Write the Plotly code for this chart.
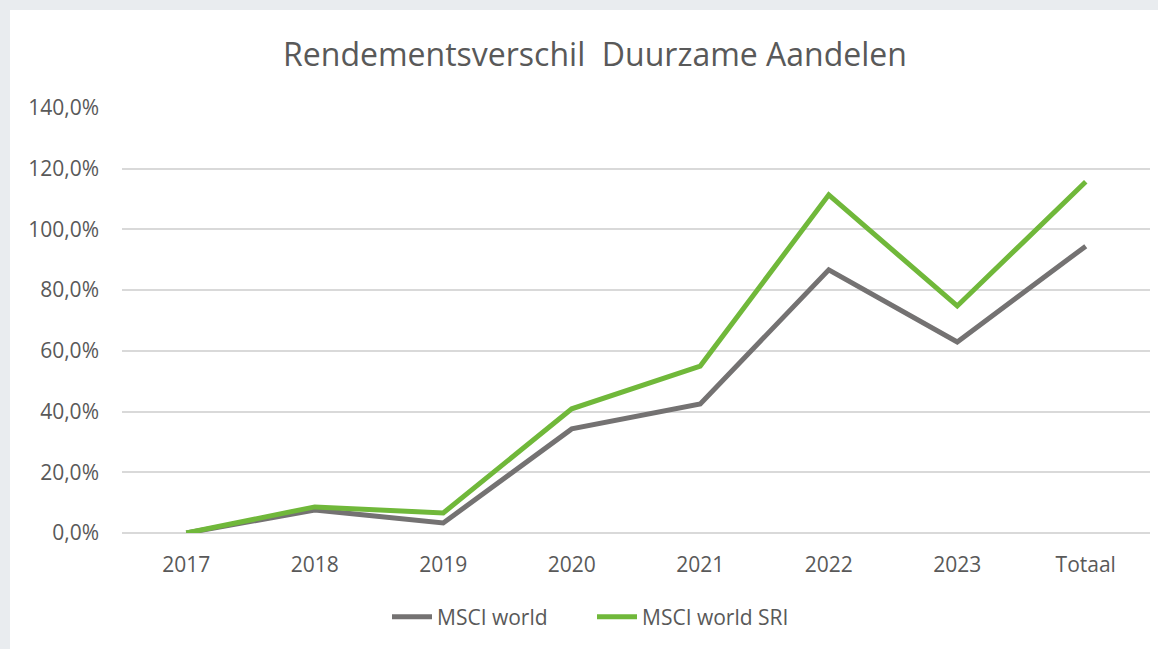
import plotly.graph_objects as go

categories = ["2017", "2018", "2019", "2020", "2021", "2022", "2023", "Totaal"]
msci_world = [0.0, 7.6, 3.3, 34.3, 42.5, 86.7, 62.9, 94.5]
msci_world_sri = [0.0, 8.6, 6.6, 40.9, 55.0, 111.4, 74.8, 115.7]
y_ticks = [0, 20, 40, 60, 80, 100, 120, 140]
y_tick_labels = [f"{v:.1f}%".replace(".", ",") for v in y_ticks]

FONT = "Open Sans"
TXT = "#595959"

fig = go.Figure()
fig.add_trace(go.Scatter(x=categories, y=msci_world, mode="lines", name="MSCI world",
                         line=dict(color="#747272", width=5)))
fig.add_trace(go.Scatter(x=categories, y=msci_world_sri, mode="lines", name="MSCI world SRI",
                         line=dict(color="#70b83a", width=5)))

fig.update_layout(
    width=1158, height=649,
    paper_bgcolor="#e9ecef",
    plot_bgcolor="white",
    margin=dict(l=122, r=8, t=108, b=116),
    title=dict(text="Rendementsverschil  Duurzame Aandelen", x=595 / 1158, xanchor="center",
               y=1 - 55 / 649, yanchor="middle",
               font=dict(family=FONT, size=32, color=TXT)),
    font=dict(family=FONT, color=TXT),
    showlegend=True,
    legend=dict(orientation="h", x=(400 - 122 - 13) / 1028, xanchor="left",
                y=-84 / 425, yanchor="middle", entrywidth=150, entrywidthmode="pixels",
                font=dict(family=FONT, size=21, color=TXT), bgcolor="rgba(0,0,0,0)",
                itemwidth=40, tracegroupgap=0),
    shapes=[dict(type="rect", xref="paper", yref="paper", layer="below",
                 x0=-112 / 1028, x1=1 + 8 / 1028, y0=-116 / 425, y1=1 + 98 / 425,
                 fillcolor="white", line=dict(width=0))],
)
fig.update_xaxes(type="category", range=[-0.5, 7.5], showgrid=False, showline=False,
                 zeroline=False, ticks="", tickfont=dict(size=21, color=TXT),
                 ticklabelstandoff=17)
fig.update_yaxes(range=[0, 140], tickvals=y_ticks, ticktext=y_tick_labels,
                 showgrid=True, gridcolor="#d9d9d9", gridwidth=2, zeroline=True,
                 zerolinecolor="#d9d9d9", zerolinewidth=2, showline=False, ticks="",
                 tickfont=dict(size=21, color=TXT), ticklabelstandoff=22)

fig.write_html("out.html", config={"displayModeBar": False},
               post_script="document.body.style.margin='0';")
